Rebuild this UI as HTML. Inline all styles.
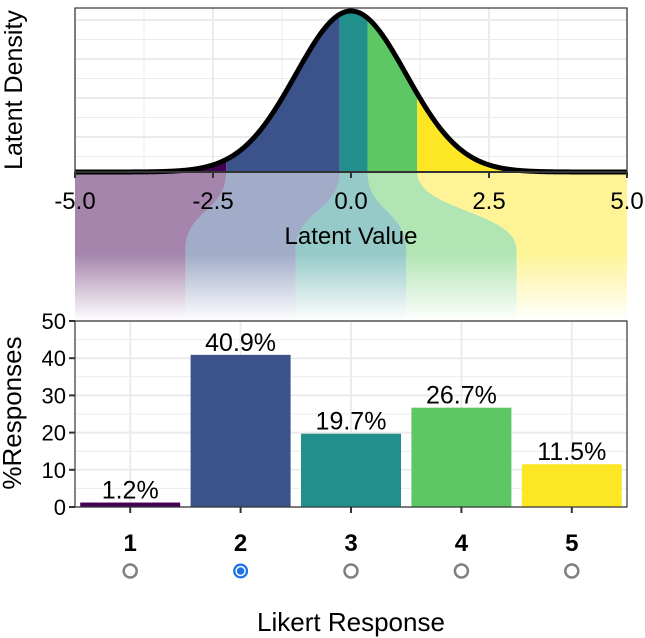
<!DOCTYPE html>
<html><head><meta charset="utf-8"><style>
html,body{margin:0;padding:0;background:#fff;}
svg{display:block;font-family:"Liberation Sans",Arial,sans-serif;}
</style></head><body>
<svg id="c" width="645" height="638" viewBox="0 0 645 638"></svg>
<script>
const categories=["1","2","3","4","5"];
const percents=[1.2,40.9,19.7,26.7,11.5];
const thresholds=[-2.26,-0.205,0.30,1.20];
const colors=["#440154","#3B528B","#21908C","#5DC863","#FDE725"];
const latentTicks=[-5,-2.5,0,2.5,5];
const latentTickLabels=["-5.0","-2.5","0.0","2.5","5.0"];
const yTicks=[0,10,20,30,40,50];
const selected=1;

const NS="http://www.w3.org/2000/svg";
const svg=document.getElementById('c');
function el(t,a,p){const e=document.createElementNS(NS,t);for(const k in a)e.setAttribute(k,a[k]);(p||svg).appendChild(e);return e;}
const L=75,R=627,TT=8,TB=172,BT=321,BB=507;
const xl=v=>L+(v+5)/10*(R-L);
const dens=v=>Math.exp(-v*v/2)/Math.sqrt(2*Math.PI);
const yd=d=>TB-d/dens(0)*(TB-11);
const bw=(R-L)/categories.length;
const xc=i=>L+bw*(i+0.5);
const yb=v=>BB-v/50*(BB-BT);

const defs=el('defs',{});
const g=el('linearGradient',{id:'fade',x1:0,y1:0,x2:0,y2:1},defs);
el('stop',{offset:'0',"stop-color":'#fff',"stop-opacity":0},g);
el('stop',{offset:'0.55',"stop-color":'#fff',"stop-opacity":0},g);
el('stop',{offset:'1',"stop-color":'#fff',"stop-opacity":1},g);

const edgesTop=[-5,...thresholds,5].map(xl);
const edgesBot=[0,1,2,3,4,5].map(i=>L+bw*i);
const RY0=TB,RY1=250,RY2=320;
for(let i=0;i<5;i++){
  const a0=edgesTop[i],a1=edgesTop[i+1],b0=edgesBot[i],b1=edgesBot[i+1];
  const m=(RY0+RY1)/2;
  const d=`M${a0},${RY0} L${a1},${RY0} C${a1},${m} ${b1},${m} ${b1},${RY1} L${b1},${RY2} L${b0},${RY2} L${b0},${RY1} C${b0},${m} ${a0},${m} ${a0},${RY0} Z`;
  const p=el('path',{d,fill:colors[i],"fill-opacity":0.48});
  
  
}
el('rect',{x:L,y:RY0,width:R-L,height:RY2-RY0+1,fill:'url(#fade)'});

for(let v=-5;v<=5;v+=1.25){el('line',{x1:xl(v),x2:xl(v),y1:TT,y2:TB,stroke:'#ebebeb',"stroke-width":Number.isInteger(v/2.5)?2:1});}
for(let k=0;k<9;k++){const y=TT+12+k*19.5;if(y<TB)el('line',{x1:L,x2:R,y1:y,y2:y,stroke:'#ebebeb',"stroke-width":k%2?1:2});}
const bounds=[-5,...thresholds,5];
for(let i=0;i<5;i++){
  let d=`M${xl(bounds[i])},${TB}`;
  for(let v=bounds[i];v<=bounds[i+1]+1e-9;v+=0.02){d+=` L${xl(v)},${yd(dens(v))}`;}
  d+=` L${xl(bounds[i+1])},${yd(dens(bounds[i+1]))} L${xl(bounds[i+1])},${TB} Z`;
  const p=el('path',{d,fill:colors[i]});
  
  
}
let cd='';for(let v=-5;v<=5.001;v+=0.02){cd+=(cd?' L':'M')+xl(v)+','+yd(dens(v));}
const curve=el('path',{d:cd,fill:'none',stroke:'#000',"stroke-width":5,"stroke-linejoin":'round'});

el('rect',{x:L,y:TT,width:R-L,height:TB-TT,fill:'none',stroke:'#333',"stroke-width":1.2});
el('line',{x1:L,x2:R,y1:TB,y2:TB,stroke:'#333',"stroke-width":2});
latentTicks.forEach((v,i)=>{
  el('line',{x1:xl(v),x2:xl(v),y1:TB,y2:TB+6,stroke:'#333',"stroke-width":2});
  const t=el('text',{x:xl(v),y:TB+37,"text-anchor":'middle',"font-size":24,fill:'#000'});t.textContent=latentTickLabels[i];
  
});
let t=el('text',{x:351,y:244,"text-anchor":'middle',"font-size":24});t.textContent='Latent Value';

t=el('text',{x:0,y:0,transform:'translate(22,90) rotate(-90)',"text-anchor":'middle',"font-size":25});t.textContent='Latent Density';


el('rect',{x:L,y:BT,width:R-L,height:BB-BT,fill:'#fff'});
for(let v=0;v<=50;v+=5){el('line',{x1:L,x2:R,y1:yb(v),y2:yb(v),stroke:'#ebebeb',"stroke-width":v%10?1:2});}
categories.forEach((c,i)=>el('line',{x1:xc(i),x2:xc(i),y1:BT,y2:BB,stroke:'#ebebeb',"stroke-width":2}));
percents.forEach((p,i)=>{
  const b=el('rect',{x:xc(i)-50,y:yb(p),width:100,height:BB-yb(p),fill:colors[i]});
  
  const l=el('text',{x:xc(i),y:yb(p)-4,"text-anchor":'middle',"font-size":25});l.textContent=p.toFixed(1)+'%';
  
});
el('rect',{x:L,y:BT,width:R-L,height:BB-BT,fill:'none',stroke:'#333',"stroke-width":1.2});
yTicks.forEach(v=>{
  el('line',{x1:L-6,x2:L,y1:yb(v),y2:yb(v),stroke:'#333',"stroke-width":2});
  const l=el('text',{x:L-9,y:yb(v)+8,"text-anchor":'end',"font-size":22});l.textContent=v;
  
});
t=el('text',{x:0,y:0,transform:'translate(21,413) rotate(-90)',"text-anchor":'middle',"font-size":26});t.textContent='%Responses';

categories.forEach((c,i)=>{
  el('line',{x1:xc(i),x2:xc(i),y1:BB,y2:BB+6,stroke:'#333',"stroke-width":2});
  const l=el('text',{x:xc(i),y:BB+44,"text-anchor":'middle',"font-size":24,"font-weight":'bold'});l.textContent=c;
  
  const gr=el('g',{});
  
  if(i===selected){
    el('circle',{cx:xc(i),cy:571,r:7.5,fill:'#1a73e8'},gr);
    el('circle',{cx:xc(i),cy:571,r:4.5,fill:'none',stroke:'#fff',"stroke-width":1.5},gr);
  }else{
    el('circle',{cx:xc(i),cy:571,r:6.5,fill:'#fff',stroke:'#808080',"stroke-width":2.5},gr);
  }
});
t=el('text',{x:351,y:631,"text-anchor":'middle',"font-size":26});t.textContent='Likert Response';

</script>
</body></html>
